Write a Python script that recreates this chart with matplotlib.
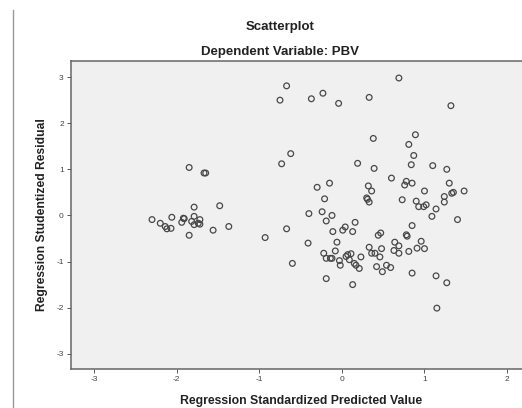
import matplotlib.pyplot as plt
from matplotlib.lines import Line2D

plt.rcParams['font.family'] = ['Liberation Sans', 'DejaVu Sans']
plt.rcParams['axes.unicode_minus'] = False

# Regression standardized predicted value (x) and studentized residual (y)
pred = [
    -2.30, -2.20, -2.14, -2.12, -2.07, -2.06, -1.94, -1.92, -1.91, -1.85,
    -1.85, -1.82, -1.79, -1.79, -1.79, -1.74, -1.72, -1.72, -1.67, -1.65,
    -1.56, -1.48, -1.37,
    -0.93, -0.75, -0.67, -0.73, -0.62, -0.67, -0.60, -0.41, -0.40, -0.37,
    -0.30, -0.24, -0.23, -0.21, -0.22, -0.19, -0.19, -0.19, -0.15, -0.14,
    -0.12, -0.12, -0.11, -0.08, -0.06, -0.04, -0.03, -0.02, 0.01, 0.04,
    0.05, 0.07, 0.09, 0.11, 0.13, 0.13, 0.15, 0.16, 0.17, 0.19,
    0.21, 0.23, 0.30, 0.31, 0.32, 0.33, 0.33, 0.33, 0.36, 0.36,
    0.38, 0.39, 0.40, 0.42, 0.44, 0.46, 0.47, 0.48, 0.49, 0.54,
    0.59, 0.60, 0.64, 0.63, 0.69, 0.69, 0.69, 0.73, 0.76, 0.78,
    0.78, 0.79, 0.81, 0.81, 0.84, 0.85, 0.85, 0.85, 0.87, 0.89,
    0.90, 0.91, 0.93, 0.96, 0.99, 1.00, 1.00, 1.02, 1.09, 1.10,
    1.14, 1.14, 1.15, 1.24, 1.24, 1.27, 1.27, 1.30, 1.32, 1.33,
    1.35, 1.40, 1.48,
]
resid = [
    -0.09, -0.17, -0.24, -0.29, -0.28, -0.04, -0.15, -0.06, -0.07, 1.04,
    -0.43, -0.13, 0.18, -0.02, -0.20, -0.17, -0.09, -0.19, 0.92, 0.92,
    -0.32, 0.21, -0.24,
    -0.48, 2.50, 2.81, 1.12, 1.34, -0.29, -1.04, -0.60, 0.04, 2.53,
    0.61, 0.08, 2.65, 0.36, -0.82, -0.12, -0.93, -1.37, 0.70, -0.93,
    -0.93, 0.00, -0.35, -0.77, -0.58, 2.43, -0.98, -1.08, -0.32, -0.25,
    -0.89, -0.85, -0.96, -0.83, -1.50, -0.35, -1.04, -0.15, -1.08, 1.13,
    -1.15, -0.90, 0.38, 0.35, 0.64, 2.56, 0.29, -0.69, 0.53, -0.82,
    1.67, 1.02, -0.82, -1.11, -0.43, -0.90, -0.38, -0.72, -1.22, -1.08,
    -1.13, 0.81, -0.58, -0.76, -0.66, -0.82, 2.98, 0.34, 0.66, 0.74,
    -0.42, -0.45, 1.54, -0.78, 1.10, 0.70, -0.22, -1.25, 1.30, 1.75,
    0.31, -0.71, 0.19, -0.56, 0.19, -0.72, 0.53, 0.23, -0.02, 1.08,
    0.14, -1.31, -2.01, 0.41, 0.29, 1.00, -1.46, 0.70, 2.38, 0.48,
    0.50, -0.09, 0.53,
]
ticks = [-3, -2, -1, 0, 1, 2, 3]
xticks = [-3, -2, -1, 0, 1, 2]

fig = plt.figure(figsize=(5.22, 4.08), dpi=100)
ax = fig.add_axes([0.1354, 0.0956, 0.885, 0.755])
ax.set_facecolor('#f0f0f0')

ax.scatter(pred, resid, s=17, facecolors='none', edgecolors='#484848', linewidths=0.9)

ax.set_xticks(xticks)
ax.set_xticklabels([str(t) for t in xticks])
ax.set_yticks(ticks)
ax.set_yticklabels([str(t) for t in ticks])
ax.set_xlim(-3.285, 2.31)
ax.set_ylim(-3.33, 3.35)
ax.tick_params(direction='out', length=3, width=0.7, color='#555555',
               labelsize=6, labelcolor='#444444', pad=2)
for side in ['left', 'bottom', 'top']:
    ax.spines[side].set_color('#666666')
    ax.spines[side].set_linewidth(1.1)
ax.spines['right'].set_visible(False)

fig.text(0.537, 0.934, 'Scatterplot', ha='center', va='center',
         fontsize=9.5, fontweight='bold', color='#222222')
fig.text(0.537, 0.873, 'Dependent Variable: PBV', ha='center', va='center',
         fontsize=9.5, fontweight='bold', color='#222222')
fig.text(0.577, 0.018, 'Regression Standardized Predicted Value', ha='center',
         va='center', fontsize=8.8, fontweight='bold', color='#222222')
fig.text(0.080, 0.473, 'Regression Studentized Residual', ha='center',
         va='center', rotation=90, fontsize=8.7, fontweight='bold', color='#222222')

# left frame line of the chart window
fig.add_artist(Line2D([0.025, 0.025], [0.0, 0.975], color='#999999',
                      linewidth=1.0, transform=fig.transFigure))

fig.savefig('out.png', dpi=100)
